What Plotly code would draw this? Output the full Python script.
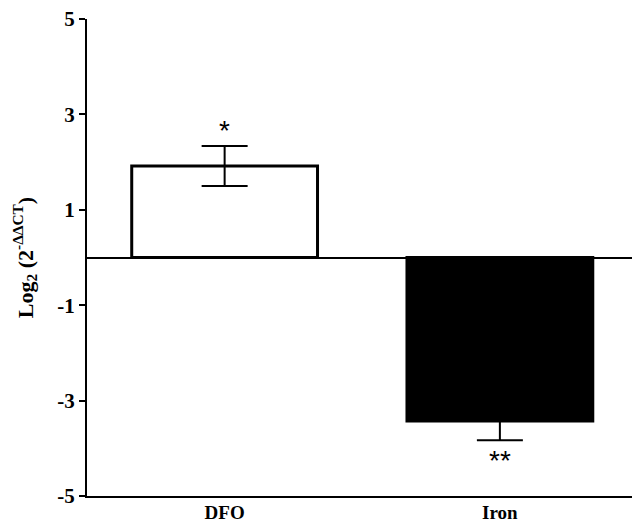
import plotly.graph_objects as go

categories = ["DFO", "Iron"]
values = [1.92, -3.43]
errors = [0.42, 0.40]
significance = ["*", "**"]
y_ticks = [5, 3, 1, -1, -3, -5]

font_family = "Liberation Serif, Times New Roman, serif"

fig = go.Figure()
fig.add_trace(go.Bar(
    x=categories, y=values, width=0.675,
    marker=dict(color=["white", "black"], line=dict(color="black", width=3)),
    error_y=dict(type="data", array=errors, color="black", thickness=2, width=23),
    showlegend=False,
))

for cat, v, e, s in zip(categories, values, errors, significance):
    fig.add_annotation(
        x=cat, y=v + (e if v > 0 else -e), text=s, showarrow=False,
        yshift=15 if v > 0 else -20,
        font=dict(family="Arial, Liberation Sans, sans-serif", size=28, color="black"),
    )

fig.update_layout(
    width=637, height=523,
    margin=dict(l=87, r=5, t=19, b=27, autoexpand=False),
    plot_bgcolor="white", paper_bgcolor="white",
    font=dict(family=font_family, color="black"),
    bargap=0.3,
)
fig.update_xaxes(
    range=[-0.5, 1.48], showline=True, linecolor="black", linewidth=2,
    ticks="", showgrid=False, zeroline=False, automargin=False,
    tickfont=dict(family=font_family, size=19, color="black", weight="bold"),
    ticklabelstandoff=-2,
)
fig.update_yaxes(
    range=[-5, 5], tickvals=y_ticks, ticktext=[str(t) for t in y_ticks],
    showline=True, linecolor="black", linewidth=2, automargin=False,
    ticks="outside", ticklen=6, tickwidth=2, tickcolor="black",
    showgrid=False, zeroline=True, zerolinecolor="black", zerolinewidth=2,
    tickfont=dict(family=font_family, size=21, color="black", weight="bold"),
    title=dict(text="<b>Log<sub>2</sub> (2<sup>-ΔΔCT</sup>)</b>", standoff=18,
               font=dict(family=font_family, size=22, color="black")),
)

fig.write_html("out.html")
